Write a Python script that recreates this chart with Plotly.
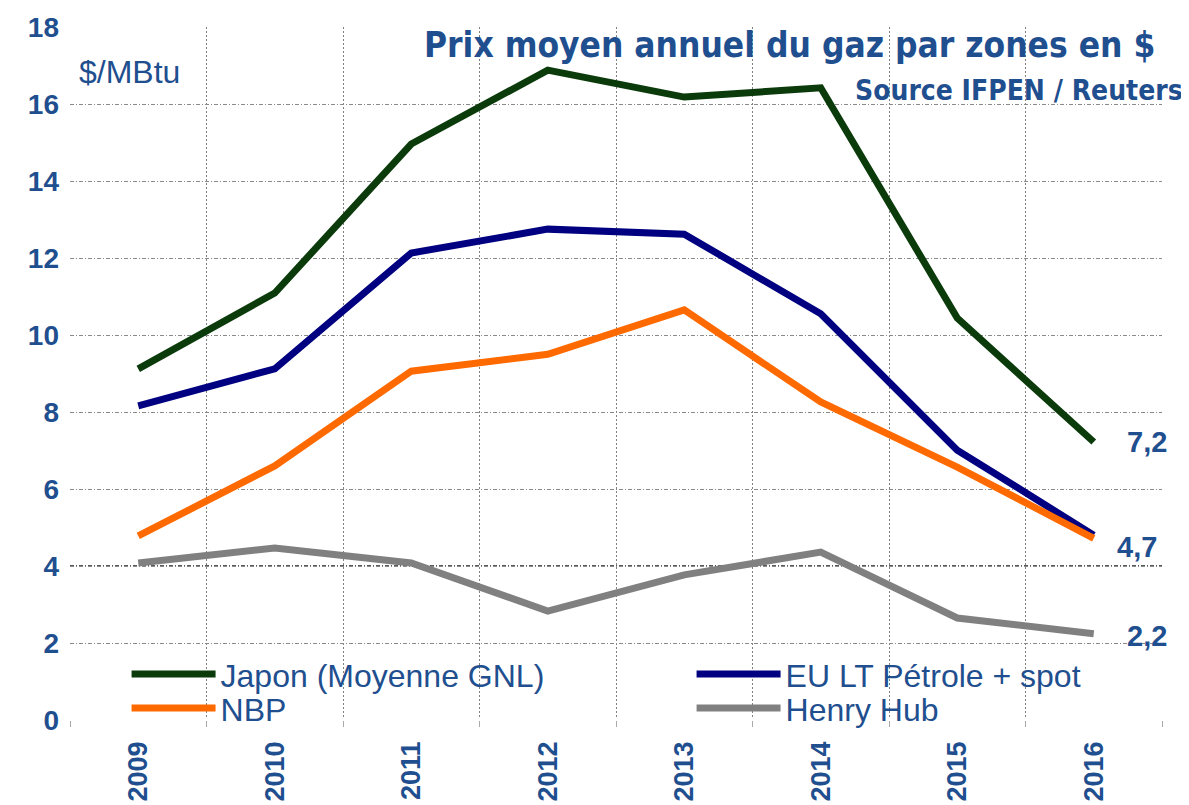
import plotly.graph_objects as go

years = ["2009", "2010", "2011", "2012", "2013", "2014", "2015", "2016"]
japon = [9.12, 11.09, 14.96, 16.88, 16.18, 16.42, 10.44, 7.22]
eu = [8.16, 9.12, 12.13, 12.75, 12.62, 10.55, 7.01, 4.80]
nbp = [4.78, 6.60, 9.06, 9.50, 10.65, 8.26, 6.57, 4.72]
henry = [4.08, 4.47, 4.08, 2.83, 3.77, 4.36, 2.65, 2.24]

names = ["Japon (Moyenne GNL)", "EU LT Pétrole + spot", "NBP", "Henry Hub"]
colors = ["#0b3b0b", "#000080", "#ff6a00", "#808080"]
series = [japon, eu, nbp, henry]
legends = ["legend", "legend2", "legend3", "legend4"]
yticks = [0, 2, 4, 6, 8, 10, 12, 14, 16, 18]

BLUE = "#1f4f8f"
FONT = "Liberation Sans, Arial, sans-serif"
NARROW = "Liberation Sans Narrow, Arial Narrow, DejaVu Sans Condensed, sans-serif"

fig = go.Figure()
for name, col, vals, lg in zip(names, colors, series, legends):
    fig.add_trace(go.Scatter(x=years, y=vals, name=name, mode="lines",
                             line=dict(color=col, width=7), legend=lg, showlegend=True))

# end labels
last = len(years) - 1
for vals, yshift, xshift in [(japon, 0, 53), (nbp, -9, 43), (henry, -2, 53)]:
    fig.add_annotation(x=last, y=vals[-1], text=f"{vals[-1]:.1f}".replace(".", ","),
                       showarrow=False, xanchor="center", yanchor="middle",
                       xshift=xshift, yshift=yshift,
                       font=dict(family=FONT, size=29, color=BLUE, weight="bold"))

fig.add_annotation(xref="paper", yref="paper", x=0.9954, y=0.974, xanchor="right", yanchor="middle",
                   text="Prix moyen annuel du gaz par zones en $", showarrow=False,
                   font=dict(family=NARROW, size=35, color=BLUE, weight="bold"))
fig.add_annotation(xref="paper", yref="paper", x=1.021, y=0.909, xanchor="right", yanchor="middle",
                   text="Source IFPEN / Reuters", showarrow=False,
                   font=dict(family=NARROW, size=28, color=BLUE, weight="bold"))
fig.add_annotation(xref="paper", yref="paper", x=0.006, y=0.935, xanchor="left", yanchor="middle",
                   text="$/MBtu", showarrow=False,
                   font=dict(family=FONT, size=32, color=BLUE))

# white band behind legend, darker line at 4
fig.add_shape(type="rect", xref="paper", yref="y", x0=0, x1=1, y0=0, y1=1.72,
              fillcolor="white", line=dict(width=0), layer="between")
fig.add_shape(type="line", xref="paper", yref="y", x0=0, x1=1, y0=4, y1=4,
              line=dict(color="#222222", width=1.3, dash="4px,2px,1px,2px"), layer="between")

leg_common = dict(xanchor="left", yanchor="middle", bgcolor="rgba(0,0,0,0)", itemwidth=84,
                  font=dict(family=FONT, size=32, color=BLUE))
fig.update_layout(
    width=1181, height=797, autosize=False, showlegend=True,
    margin=dict(l=62, r=27, t=19, b=85),
    paper_bgcolor="white", plot_bgcolor="white",
    legend=dict(x=0.0518, y=0.066, **leg_common),
    legend2=dict(x=0.5692, y=0.066, **leg_common),
    legend3=dict(x=0.0518, y=0.017, **leg_common),
    legend4=dict(x=0.5692, y=0.017, **leg_common),
    xaxis=dict(type="category", range=[-0.5, 7.5], autorange=False, tickson="boundaries",
               showgrid=True, gridcolor="#808080", automargin=False,
               griddash="2px,2px", gridwidth=1, ticks="outside", ticklen=6, tickcolor="#aaaaaa",
               tickangle=-90, ticklabelstandoff=15, showline=False, zeroline=False,
               tickfont=dict(family=FONT, size=27, color=BLUE, weight="bold")),
    yaxis=dict(range=[0, 18], autorange=False, tickvals=yticks, showgrid=True, gridcolor="#8a8a8a",
               griddash="4px,2px,1px,2px", gridwidth=1, zeroline=True, zerolinecolor="white",
               zerolinewidth=2, showline=False, ticks="", ticklabelstandoff=10, automargin=False,
               tickfont=dict(family=FONT, size=28, color=BLUE, weight="bold")),
)

fig.write_html("out.html")
